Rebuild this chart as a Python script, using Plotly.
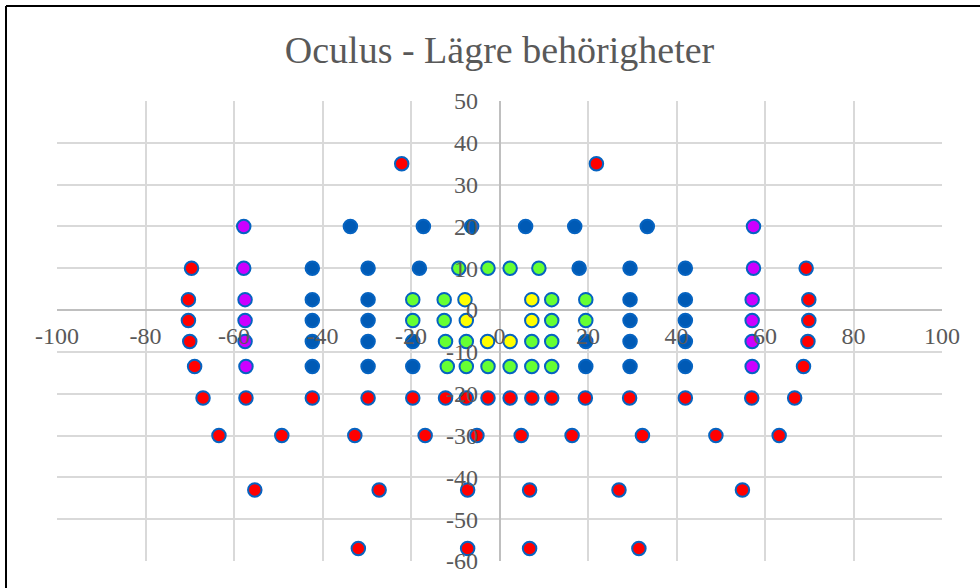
import plotly.graph_objects as go

# ---- data ----
red_x = [-22.1, 21.9,
         -69.6, 69.3,
         -70.3, 69.9,
         -70.3, 69.9,
         -70.0, 69.7,
         -68.9, 68.7,
         -67.0, -57.3, -42.3, -29.7, -19.6, -12.2, -7.5, -2.6, 2.4, 7.3, 11.8, 19.4, 29.4, 42.0, 57.0, 66.7,
         -63.4, -49.2, -32.7, -16.8, -5.1, 4.9, 16.4, 32.3, 48.9, 63.2,
         -55.3, -27.2, -7.2, 6.8, 27.0, 54.9,
         -31.9, -7.2, 6.8, 31.5]
red_y = [35, 35,
         10, 10,
         2.5, 2.5,
         -2.5, -2.5,
         -7.5, -7.5,
         -13.5, -13.5,
         -21, -21, -21, -21, -21, -21, -21, -21, -21, -21, -21, -21, -21, -21, -21, -21,
         -30, -30, -30, -30, -30, -30, -30, -30, -30, -30,
         -43, -43, -43, -43, -43, -43,
         -57, -57, -57, -57]

purple_x = [-57.8, 57.4, -57.8, 57.4, -57.5, 57.1, -57.5, 57.1, -57.5, 57.1, -57.3, 57.1]
purple_y = [20, 20, 10, 10, 2.5, 2.5, -2.5, -2.5, -7.5, -7.5, -13.5, -13.5]

blue_x = [-33.7, -17.2, -6.3, 5.9, 17.0, 33.4,
          -42.3, -29.7, -18.1, 18.0, 29.5, 42.0,
          -42.3, -29.7, 29.5, 42.0,
          -42.3, -29.7, 29.5, 42.0,
          -42.3, -29.7, -19.6, 19.5, 29.5, 42.0,
          -42.3, -29.7, -19.6, 19.5, 29.5, 42.0]
blue_y = [20, 20, 20, 20, 20, 20,
          10, 10, 10, 10, 10, 10,
          2.5, 2.5, 2.5, 2.5,
          -2.5, -2.5, -2.5, -2.5,
          -7.5, -7.5, -7.5, -7.5, -7.5, -7.5,
          -13.5, -13.5, -13.5, -13.5, -13.5, -13.5]

green_x = [-9.2, -2.6, 2.4, 8.9,
           -19.6, -12.5, 11.8, 19.5,
           -19.6, -12.5, 11.8, 19.5,
           -12.2, -7.5, 7.3, 11.8,
           -11.8, -7.5, -2.6, 2.4, 7.3, 11.8]
green_y = [10, 10, 10, 10,
           2.5, 2.5, 2.5, 2.5,
           -2.5, -2.5, -2.5, -2.5,
           -7.5, -7.5, -7.5, -7.5,
           -13.5, -13.5, -13.5, -13.5, -13.5, -13.5]

yellow_x = [-7.8, 7.3, -7.5, 7.3, -2.7, 2.4]
yellow_y = [2.5, 2.5, -2.5, -2.5, -7.5, -7.5]

title_text = "Oculus - Lägre behörigheter"
x_range = [-100, 100]
y_range = [-60, 50]
x_ticks = [-100, -80, -60, -40, -20, 0, 20, 40, 60, 80, 100]
y_ticks = [-60, -50, -40, -30, -20, -10, 0, 10, 20, 30, 40, 50]

# ---- figure ----
BORDER = "#0563C1"
series = [
    (blue_x, blue_y, "#005AB5"),
    (green_x, green_y, "#66FF33"),
    (yellow_x, yellow_y, "#FFFF00"),
    (purple_x, purple_y, "#CC00FF"),
    (red_x, red_y, "#FF0000"),
]

fig = go.Figure()
for xs, ys, col in series:
    fig.add_trace(go.Scatter(
        x=xs, y=ys, mode="markers",
        marker=dict(size=13.5, color=col, line=dict(color=BORDER, width=2)),
        showlegend=False, hoverinfo="x+y",
    ))

SERIF = "Liberation Serif, Times New Roman, serif"
tickfont = dict(family=SERIF, size=24, color="#595959")

fig.update_layout(
    width=980, height=588,
    margin=dict(l=57, r=38, t=101, b=27),
    paper_bgcolor="white", plot_bgcolor="white",
    title=dict(text=title_text, x=0.5, xref="paper", y=1 - 50 / 588, yref="container",
               xanchor="center", yanchor="middle",
               font=dict(family=SERIF, size=38, color="#595959")),
    xaxis=dict(range=x_range, tickvals=x_ticks, ticktext=[str(v) for v in x_ticks],
               showgrid=True, gridcolor="#D9D9D9", gridwidth=1.5,
               zeroline=False, showline=True, linecolor="#BFBFBF", linewidth=1.5,
               anchor="free", position=(0 - y_range[0]) / (y_range[1] - y_range[0]),
               ticks="", tickfont=tickfont, ticklabelstandoff=4, fixedrange=True),
    yaxis=dict(range=y_range, tickvals=y_ticks, ticktext=[str(v) for v in y_ticks],
               showgrid=True, gridcolor="#D9D9D9", gridwidth=1.5,
               zeroline=False, showline=True, linecolor="#BFBFBF", linewidth=1.5,
               anchor="free", position=(0 - x_range[0]) / (x_range[1] - x_range[0]),
               ticks="", tickfont=tickfont, ticklabelstandoff=16, fixedrange=True),
)

# chart-area border: only the left and top edges are visible in the reference
left_x = (6 - 57) / 885
top_y = (561 - 6) / 460
fig.add_shape(type="line", xref="paper", yref="paper",
              x0=left_x, x1=left_x, y0=-0.1, y1=top_y,
              line=dict(color="black", width=2), layer="above")
fig.add_shape(type="line", xref="paper", yref="paper",
              x0=left_x, x1=1.1, y0=top_y, y1=top_y,
              line=dict(color="black", width=2), layer="above")

fig.write_html("out.html", config={"displayModeBar": False},
               post_script="document.body.style.margin='0px';document.body.style.overflow='hidden';")
